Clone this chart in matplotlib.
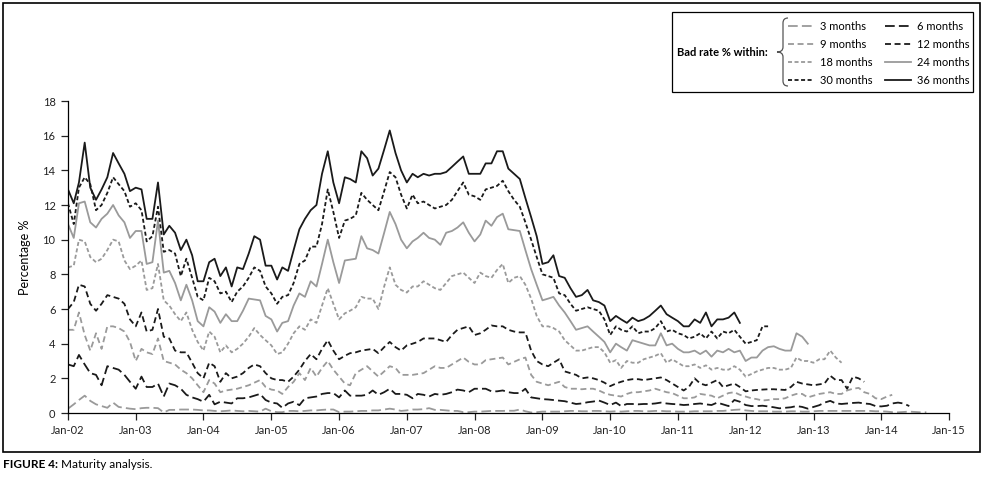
import numpy as np
import pandas as pd
import matplotlib
matplotlib.use('Agg')
import matplotlib.pyplot as plt
from matplotlib.path import Path
from matplotlib.patches import PathPatch, Rectangle

plt.rcParams['font.family'] = ['Lato', 'DejaVu Sans']
plt.rcParams['lines.scale_dashes'] = False

# monthly bad rates (%), first value is Jan-02
m36 = [12.9, 12.1, 13.3, 15.6, 13.0, 12.3, 12.9, 13.6, 15.0, 14.4, 13.8, 12.8,
       13.0, 12.9, 11.2, 11.2, 13.3, 10.3, 10.8, 10.4, 9.4, 10.0, 9.1, 7.6,
       7.6, 8.7, 8.9, 7.9, 8.4, 7.3, 8.4, 8.3, 9.2, 10.2, 10.0, 8.5,
       8.5, 7.7, 8.4, 8.2, 9.4, 10.6, 11.2, 11.7, 12.0, 13.8, 15.1, 13.3,
       12.1, 13.6, 13.5, 13.3, 15.1, 14.7, 13.7, 14.1, 15.2, 16.3, 15.0, 14.0,
       13.3, 13.8, 13.6, 13.8, 13.7, 13.8, 13.8, 13.9, 14.2, 14.5, 14.8, 13.8,
       13.8, 13.8, 14.4, 14.4, 15.1, 15.1, 14.1, 13.8, 13.5, 12.4, 11.3, 10.2,
       8.6, 8.7, 9.1, 7.9, 7.8, 7.2, 6.7, 6.8, 7.1, 6.5, 6.4, 6.2,
       5.3, 5.6, 5.4, 5.2, 5.5, 5.3, 5.4, 5.6, 5.9, 6.2, 5.7, 5.5,
       5.3, 5.0, 5.0, 5.4, 5.2, 5.8, 5.0, 5.4, 5.4, 5.5, 5.8, 5.2]
m30 = [12.1, 10.9, 13.0, 13.6, 13.2, 11.7, 12.0, 12.7, 13.6, 13.2, 12.8, 11.9,
       12.1, 11.7, 9.9, 10.2, 11.9, 9.3, 9.4, 9.2, 7.9, 8.9, 7.8, 6.7,
       6.5, 7.8, 7.6, 6.9, 7.0, 6.4, 7.0, 7.3, 7.8, 8.4, 8.2, 7.3,
       6.9, 6.3, 6.7, 6.8, 7.5, 8.6, 8.8, 9.6, 9.6, 10.9, 12.9, 11.6,
       10.1, 11.1, 11.2, 11.4, 12.7, 12.3, 12.0, 11.7, 12.8, 13.9, 13.6, 12.6,
       11.8, 12.6, 12.1, 12.2, 12.0, 11.8, 11.9, 12.0, 12.3, 12.8, 13.3, 12.6,
       12.5, 12.3, 12.9, 13.0, 13.1, 13.4, 12.8, 12.3, 11.9, 11.0, 10.0, 9.0,
       8.0, 7.9, 7.8, 6.9, 6.8, 6.3, 5.9, 6.0, 6.1, 6.0, 5.9, 5.4,
       4.5, 5.0, 4.8, 4.7, 5.0, 4.6, 4.7, 4.7, 4.9, 5.3, 4.7, 4.8,
       4.6, 4.5, 4.3, 4.4, 4.6, 4.3, 4.7, 4.3, 4.7, 4.6, 4.8, 4.4,
       4.0, 4.1, 4.2, 5.0, 5.0]
m24 = [10.9, 10.1, 12.1, 12.2, 11.0, 10.7, 11.2, 11.5, 12.0, 11.4, 11.0, 10.1,
       10.5, 10.5, 8.6, 8.7, 11.1, 8.1, 8.2, 7.5, 6.5, 7.4, 6.5, 5.3,
       5.0, 6.1, 5.85, 5.2, 5.7, 5.3, 5.3, 5.9, 6.6, 6.55, 6.5, 5.6,
       5.4, 4.7, 5.2, 5.3, 6.2, 6.9, 6.7, 7.6, 7.3, 8.6, 10.0, 8.7,
       7.5, 8.8, 8.85, 8.9, 10.2, 9.5, 9.4, 9.2, 10.4, 11.6, 10.9, 10.0,
       9.5, 9.9, 10.1, 10.4, 10.1, 10.0, 9.7, 10.4, 10.5, 10.7, 11.0, 10.4,
       9.9, 10.3, 11.1, 10.8, 11.3, 11.5, 10.6, 10.55, 10.5, 9.4, 8.3, 7.4,
       6.5, 6.6, 6.7, 6.2, 5.8, 5.3, 4.8, 4.9, 5.0, 4.7, 4.4, 4.1,
       3.5, 4.0, 3.8, 3.6, 4.2, 4.1, 4.0, 3.9, 3.9, 4.6, 3.9, 4.0,
       3.7, 3.5, 3.5, 3.6, 3.4, 3.6, 3.25, 3.6, 3.5, 3.7, 3.5, 3.6,
       3.0, 3.2, 3.2, 3.6, 3.8, 3.85, 3.7, 3.6, 3.6, 4.6, 4.4, 4.0]
m18 = [8.4, 8.5, 10.0, 9.9, 9.0, 8.7, 8.9, 9.4, 10.0, 9.9, 8.8, 8.3,
       8.5, 8.8, 7.1, 7.2, 8.6, 6.5, 6.2, 5.7, 5.3, 5.8, 4.8, 4.1,
       3.6, 4.7, 4.4, 3.5, 3.9, 3.5, 3.7, 4.0, 4.4, 4.9, 4.5, 4.2,
       3.9, 3.4, 3.5, 4.0, 4.6, 5.0, 4.8, 5.4, 5.2, 6.2, 7.2, 6.3,
       5.4, 5.75, 5.9, 6.1, 6.7, 6.6, 6.6, 6.0, 7.3, 8.4, 7.4, 7.1,
       6.95, 7.3, 7.3, 7.6, 7.4, 7.2, 7.1, 7.5, 7.9, 8.0, 8.1, 7.8,
       7.5, 8.1, 7.9, 7.8, 8.25, 8.6, 7.5, 7.8, 7.9, 7.4, 6.6, 5.6,
       5.0, 5.0, 4.9, 4.7, 4.2, 3.9, 3.6, 3.6, 3.7, 3.8, 3.8, 3.5,
       2.9, 3.05, 2.6, 3.0, 2.9, 2.9, 3.1, 3.2, 3.3, 3.45, 2.9, 3.1,
       2.9, 2.7, 2.7, 2.8, 2.6, 2.75, 2.5, 2.6, 2.5, 2.5, 2.7, 2.5,
       2.1, 2.25, 2.4, 2.5, 2.6, 2.6, 2.5, 2.5, 2.6, 3.2, 3.0, 3.0,
       2.9, 3.1, 3.1, 3.6, 3.2, 2.9]
m12 = [6.0, 6.4, 7.4, 7.3, 6.3, 5.9, 6.3, 6.8, 6.7, 6.6, 6.3, 5.4,
       5.0, 5.8, 4.7, 4.8, 6.0, 4.4, 4.3, 3.6, 3.5, 3.5, 2.9, 2.3,
       2.0, 2.9, 2.7, 1.8, 2.3, 2.0, 2.1, 2.3, 2.6, 2.8, 2.7, 2.3,
       2.0, 1.9, 1.9, 1.8, 2.1, 2.5, 3.0, 3.4, 3.1, 3.7, 4.2, 3.6,
       3.1, 3.3, 3.45, 3.5, 3.6, 3.65, 3.7, 3.45, 3.8, 4.1, 3.8, 3.6,
       3.9, 4.0, 4.1, 4.3, 4.3, 4.3, 4.2, 4.1, 4.5, 4.8, 4.9, 5.0,
       4.5, 4.6, 4.8, 5.05, 5.0, 5.0, 4.8, 4.7, 4.65, 4.65, 3.6, 3.0,
       2.8, 2.7, 2.9, 3.1, 2.4, 2.3, 2.2, 2.0, 2.05, 2.0, 1.9, 1.75,
       1.55, 1.7, 1.8, 1.9, 1.95, 1.95, 1.9, 1.95, 2.0, 2.05, 1.9, 1.7,
       1.5, 1.3, 1.5, 2.0, 1.7, 1.6, 1.75, 1.9, 1.5, 1.6, 1.7, 1.5,
       1.25, 1.3, 1.33, 1.35, 1.37, 1.37, 1.35, 1.33, 1.5, 1.8, 1.7, 1.65,
       1.6, 1.65, 1.7, 2.15, 1.9, 1.9, 1.4, 2.1, 2.0, 1.8]
m9 = [4.8, 4.8, 5.8, 4.5, 3.6, 4.6, 3.7, 5.0, 5.0, 4.9, 4.7, 4.1,
      3.0, 3.7, 3.5, 3.4, 4.3, 3.0, 2.9, 2.8, 2.5, 2.3, 2.0, 1.6,
      1.2, 1.9, 1.7, 1.2, 1.3, 1.35, 1.4, 1.5, 1.6, 1.75, 1.9, 1.5,
      1.35, 1.3, 1.1, 1.5, 1.8, 2.3, 1.9, 2.6, 2.1, 2.6, 3.0, 2.5,
      2.1, 1.7, 1.6, 2.3, 2.5, 2.7, 2.4, 2.1, 2.4, 2.7, 2.6, 2.2,
      2.2, 2.2, 2.25, 2.3, 2.5, 2.7, 2.6, 2.6, 2.8, 3.0, 3.2, 2.95,
      2.8, 2.8, 3.05, 3.1, 3.15, 3.2, 2.8, 2.95, 3.1, 3.2, 2.2, 1.8,
      1.7, 1.6, 1.7, 1.8, 1.5, 1.4, 1.4, 1.37, 1.4, 1.4, 1.3, 1.15,
      1.05, 1.0, 0.95, 1.1, 1.2, 1.2, 1.25, 1.3, 1.4, 1.3, 1.2, 1.15,
      1.0, 0.85, 0.85, 0.9, 1.1, 1.05, 1.0, 0.85, 1.0, 1.15, 1.2, 1.05,
      0.95, 0.85, 0.8, 0.72, 0.75, 0.8, 0.8, 0.85, 1.0, 1.1, 1.1, 0.9,
      1.0, 1.1, 1.15, 1.2, 1.1, 1.1, 1.3, 1.4, 1.45, 1.2, 1.1, 0.85,
      0.8, 0.95, 1.05]
m6 = [2.8, 2.7, 3.35, 2.8, 2.3, 2.2, 1.6, 2.7, 2.6, 2.5, 2.2, 1.8,
      1.4, 2.1, 1.5, 1.5, 1.7, 0.95, 1.7, 1.6, 1.4, 1.05, 0.9, 0.8,
      0.65, 1.05, 0.5, 0.65, 0.6, 0.55, 0.85, 0.85, 0.9, 1.0, 1.1, 0.75,
      0.6, 0.55, 0.3, 0.55, 0.65, 0.45, 0.85, 0.9, 0.95, 1.1, 1.15, 1.15,
      0.9, 1.3, 1.0, 1.0, 1.0, 1.05, 1.3, 1.05, 1.2, 1.4, 1.1, 1.1,
      1.05, 0.85, 1.1, 1.05, 0.95, 1.1, 1.05, 1.1, 1.2, 1.35, 1.3, 1.2,
      1.4, 1.4, 1.4, 1.25, 1.25, 1.3, 1.2, 1.15, 1.15, 1.4, 0.9, 0.85,
      0.8, 0.78, 0.75, 0.72, 0.68, 0.6, 0.52, 0.55, 0.62, 0.66, 0.72, 0.6,
      0.46, 0.6, 0.4, 0.52, 0.52, 0.5, 0.52, 0.52, 0.55, 0.6, 0.55, 0.52,
      0.5, 0.46, 0.48, 0.52, 0.55, 0.5, 0.46, 0.6, 0.5, 0.4, 0.75, 0.65,
      0.46, 0.4, 0.4, 0.42, 0.38, 0.33, 0.27, 0.3, 0.33, 0.4, 0.35, 0.25,
      0.35, 0.45, 0.6, 0.7, 0.55, 0.52, 0.55, 0.58, 0.6, 0.55, 0.52, 0.4,
      0.38, 0.42, 0.55, 0.6, 0.55, 0.4]
m3 = [0.25, 0.5, 0.75, 1.0, 0.7, 0.5, 0.4, 0.3, 0.6, 0.35, 0.3, 0.25,
      0.22, 0.28, 0.3, 0.3, 0.28, 0.03, 0.18, 0.18, 0.2, 0.2, 0.2, 0.18,
      0.15, 0.15, 0.12, 0.1, 0.12, 0.15, 0.12, 0.1, 0.12, 0.1, 0.08, 0.25,
      0.1, 0.05, 0.05, 0.12, 0.12, 0.1, 0.12, 0.15, 0.15, 0.18, 0.2, 0.2,
      0.05, 0.08, 0.08, 0.1, 0.12, 0.12, 0.15, 0.15, 0.2, 0.25, 0.2, 0.12,
      0.15, 0.2, 0.2, 0.22, 0.28, 0.18, 0.18, 0.15, 0.12, 0.12, 0.05, 0.05,
      0.08, 0.08, 0.1, 0.12, 0.12, 0.12, 0.13, 0.13, 0.2, 0.1, 0.03, 0.05,
      0.08, 0.08, 0.08, 0.08, 0.1, 0.12, 0.12, 0.1, 0.1, 0.12, 0.12, 0.1,
      0.08, 0.1, 0.08, 0.1, 0.12, 0.12, 0.1, 0.1, 0.12, 0.12, 0.1, 0.1,
      0.08, 0.08, 0.08, 0.1, 0.1, 0.1, 0.1, 0.12, 0.12, 0.15, 0.18, 0.2,
      0.15, 0.12, 0.1, 0.1, 0.1, 0.08, 0.08, 0.08, 0.1, 0.1, 0.08, 0.08,
      0.1, 0.12, 0.12, 0.12, 0.12, 0.12, 0.12, 0.12, 0.12, 0.12, 0.12, 0.1,
      0.1, 0.08, 0.05, 0.04, 0.06, 0.08, 0.06, 0.04, 0.04]

labels = ['3 months', '6 months', '9 months', '12 months',
          '18 months', '24 months', '30 months', '36 months']
tick_labels = ['Jan-02', 'Jan-03', 'Jan-04', 'Jan-05', 'Jan-06', 'Jan-07', 'Jan-08',
               'Jan-09', 'Jan-10', 'Jan-11', 'Jan-12', 'Jan-13', 'Jan-14', 'Jan-15']

grey = '#9a9a9a'
black = '#1a1a1a'
long_d = (0, (7, 3))
med_d = (0, (4.3, 2.6))
short_d = (0, (2.9, 1.8))
styles = {
    '3 months': (grey, long_d), '6 months': (black, long_d),
    '9 months': (grey, med_d), '12 months': (black, med_d),
    '18 months': (grey, short_d), '24 months': (grey, '-'),
    '30 months': (black, short_d), '36 months': (black, '-'),
}
series = dict(zip(labels, [m3, m6, m9, m12, m18, m24, m30, m36]))

months = pd.date_range('2002-01-01', periods=len(m3), freq='MS')

fig = plt.figure(figsize=(9.83, 4.84), dpi=100)
ax = fig.add_axes([68 / 983, 1 - 413 / 484, 881 / 983, 312 / 484])

handles = {}
for name in labels:
    vals = series[name]
    col, ls = styles[name]
    h, = ax.plot(months[:len(vals)], vals, color=col, linestyle=ls, lw=1.3)
    handles[name] = h

ax.set_ylim(0, 18)
ax.set_yticks(np.arange(0, 19, 2))
ticks = pd.date_range('2002-01-01', periods=len(tick_labels), freq='12MS')
ax.set_xlim(ticks[0], ticks[-1])
ax.set_xticks(ticks)
ax.set_xticklabels(tick_labels)
ax.tick_params(labelsize=8, colors='#222222', length=5, width=0.9, pad=4)
for s in ['top', 'right']:
    ax.spines[s].set_visible(False)
for s in ['left', 'bottom']:
    ax.spines[s].set_linewidth(0.9)
ax.set_ylabel('Percentage %', fontsize=9, labelpad=8)

# legend, left column 3/9/18/30, right column 6/12/24/36
order = ['3 months', '9 months', '18 months', '30 months',
         '6 months', '12 months', '24 months', '36 months']
fig.legend([handles[k] for k in order], order, ncol=2, frameon=False,
           loc='upper left', bbox_to_anchor=(788 / 983, 1 - 21 / 484),
           fontsize=8, handlelength=2.3, handletextpad=0.6,
           columnspacing=1.1, labelspacing=0.62, borderaxespad=0, borderpad=0)
fig.patches.append(Rectangle((672 / 983, 1 - 92 / 484), 301 / 983, 80 / 484,
                             transform=fig.transFigure, fill=False,
                             edgecolor='black', lw=0.9))
fig.text(677 / 983, 1 - 52 / 484, 'Bad rate % within:', fontsize=8,
         fontweight='bold', va='center', ha='left')

# curly brace
pts = [(788, 18), (783, 18), (783, 23), (783, 47), (783, 52), (777, 52),
       (783, 52), (783, 57), (783, 81), (783, 86), (788, 86)]
codes = [Path.MOVETO, Path.CURVE3, Path.CURVE3, Path.LINETO, Path.CURVE3,
         Path.CURVE3, Path.CURVE3, Path.CURVE3, Path.LINETO, Path.CURVE3, Path.CURVE3]
brace = Path([(x / 983, 1 - y / 484) for x, y in pts], codes)
fig.patches.append(PathPatch(brace, transform=fig.transFigure, fill=False,
                             edgecolor='#555555', lw=0.9))

# outer frame and caption
fig.patches.append(Rectangle((3 / 983, 1 - 452 / 484), 977 / 983, 449 / 484,
                             transform=fig.transFigure, fill=False,
                             edgecolor='black', lw=1.2))
t1 = fig.text(3 / 983, 1 - 464 / 484, 'FIGURE 4:', fontsize=8.5,
              fontweight='bold', va='center', ha='left')
plt.annotate(' Maturity analysis.', xy=(1, 0.5), xycoords=t1, fontsize=8.5,
             va='center', ha='left')

plt.savefig('out.png', dpi=100)
